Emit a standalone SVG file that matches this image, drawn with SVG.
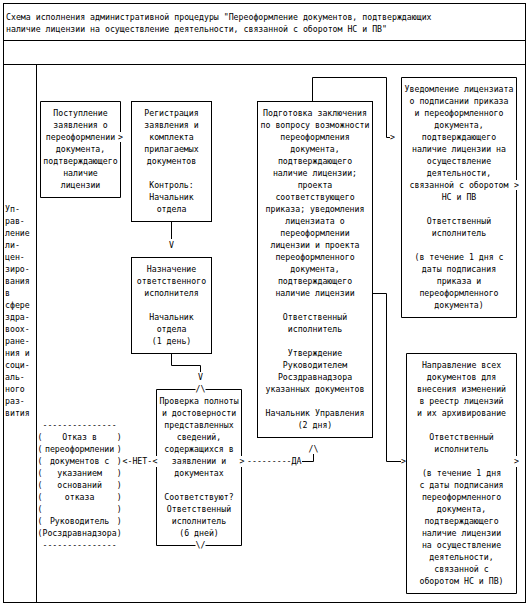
<svg xmlns="http://www.w3.org/2000/svg" width="532" height="611" viewBox="0 0 532 611">
<style>
text{font-family:"DejaVu Sans Mono","Liberation Mono",monospace;font-size:9.14px;fill:#000}
.c{text-anchor:middle}
.b{fill:none;stroke:#000;stroke-width:1}
</style>
<rect width="532" height="611" fill="#fff"/>
<g id="frame">
<rect class="b" x="3.5" y="3.5" width="522" height="599"/>
<path class="b" d="M3.5 40.5H525.5M3.5 64.5H525.5M36.5 64.5V602.5"/>
<g transform="scale(0.9 1)">
<text x="6.67" y="20.5">Схема исполнения административной процедуры "Переоформление документов, подтверждающих</text>
<text x="6.67" y="32.5">наличие лицензии на осуществление деятельности, связанной с оборотом НС и ПВ"</text>
</g>
</g>
<g id="lane">
<g transform="scale(0.9 1)">
<text x="5.56" y="212.5">Уп-</text>
<text x="5.56" y="224.5">рав-</text>
<text x="5.56" y="236.5">ление</text>
<text x="5.56" y="248.5">ли-</text>
<text x="5.56" y="260.5">цен-</text>
<text x="5.56" y="272.5">зиро-</text>
<text x="5.56" y="284.5">вания</text>
<text x="5.56" y="296.5">в</text>
<text x="5.56" y="308.5">сфере</text>
<text x="5.56" y="320.5">здра-</text>
<text x="5.56" y="332.5">воох-</text>
<text x="5.56" y="344.5">ране-</text>
<text x="5.56" y="356.5">ния и</text>
<text x="5.56" y="368.5">соци-</text>
<text x="5.56" y="380.5">аль-</text>
<text x="5.56" y="392.5">ного</text>
<text x="5.56" y="404.5">раз-</text>
<text x="5.56" y="416.5">вития</text>
</g>
</g>
<g id="nodeA">
<path class="b" d="M120.5 132V101.5H40.5V197.5H120.5V142"/>
<g transform="scale(0.9 1)">
<text class="c" x="89.44" y="116.5">Поступление</text>
<text class="c" x="89.44" y="128.5">заявления о</text>
<text class="c" x="89.44" y="140.5">переоформлении</text>
<text class="c" x="89.44" y="152.5">документа,</text>
<text class="c" x="89.44" y="164.5">подтверждающего</text>
<text class="c" x="89.44" y="176.5">наличие</text>
<text class="c" x="89.44" y="188.5">лицензии</text>
</g>
</g>
<g id="nodeB">
<rect class="b" x="131.5" y="101.5" width="80" height="120"/>
<g transform="scale(0.9 1)">
<text class="c" x="190.56" y="116.5">Регистрация</text>
<text class="c" x="190.56" y="128.5">заявления и</text>
<text class="c" x="190.56" y="140.5">комплекта</text>
<text class="c" x="190.56" y="152.5">прилагаемых</text>
<text class="c" x="190.56" y="164.5">документов</text>
<text class="c" x="190.56" y="188.5">Контроль:</text>
<text class="c" x="190.56" y="200.5">Начальник</text>
<text class="c" x="190.56" y="212.5">отдела</text>
</g>
</g>
<g id="nodeC">
<rect class="b" x="131.5" y="257.5" width="80" height="96"/>
<g transform="scale(0.9 1)">
<text class="c" x="190.56" y="272.5">Назначение</text>
<text class="c" x="190.56" y="284.5">ответственного</text>
<text class="c" x="190.56" y="296.5">исполнителя</text>
<text class="c" x="190.56" y="320.5">Начальник</text>
<text class="c" x="190.56" y="332.5">отдела</text>
<text class="c" x="190.56" y="344.5">(1 день)</text>
</g>
</g>
<g id="nodeD">
<path class="b" d="M205.5 389.5H241.5V456M241.5 467V545.5H205.5M195.5 545.5H156.5V467M156.5 456V389.5H195.5"/>
<g transform="scale(0.9 1)">
<text class="c" x="221.11" y="404.5">Проверка полноты</text>
<text class="c" x="221.11" y="416.5">и достоверности</text>
<text class="c" x="221.11" y="428.5">представленных</text>
<text class="c" x="221.11" y="440.5">сведений,</text>
<text class="c" x="221.11" y="452.5">содержащихся в</text>
<text class="c" x="221.11" y="464.5">заявлении и</text>
<text class="c" x="221.11" y="476.5">документах</text>
<text class="c" x="221.11" y="500.5">Соответствуют?</text>
<text class="c" x="221.11" y="512.5">Ответственный</text>
<text class="c" x="221.11" y="524.5">исполнитель</text>
<text class="c" x="221.11" y="536.5">(6 дней)</text>
</g>
</g>
<g id="nodeRefusal">
<g transform="scale(0.9 1)">
<text x="47.17" y="428.5">---------------</text>
<text x="47.17" y="548.5">---------------</text>
<text x="41.67" y="440.5">(</text><text x="129.67" y="440.5">)</text>
<text x="41.67" y="452.5">(</text><text x="129.67" y="452.5">)</text>
<text x="41.67" y="464.5">(</text><text x="129.67" y="464.5">)</text>
<text x="41.67" y="476.5">(</text><text x="129.67" y="476.5">)</text>
<text x="41.67" y="488.5">(</text><text x="129.67" y="488.5">)</text>
<text x="41.67" y="500.5">(</text><text x="129.67" y="500.5">)</text>
<text x="41.67" y="512.5">(</text><text x="129.67" y="512.5">)</text>
<text x="41.67" y="524.5">(</text><text x="129.67" y="524.5">)</text>
<text x="41.67" y="536.5">(</text><text x="129.67" y="536.5">)</text>
<text class="c" x="88.44" y="440.5">Отказ в</text>
<text class="c" x="88.44" y="452.5">переоформлении</text>
<text class="c" x="88.44" y="464.5">документов с</text>
<text class="c" x="88.44" y="476.5">указанием</text>
<text class="c" x="88.44" y="488.5">оснований</text>
<text class="c" x="88.44" y="500.5">отказа</text>
<text class="c" x="88.44" y="524.5">Руководитель</text>
<text class="c" x="88.44" y="536.5">Росздравнадзора</text>
</g>
</g>
<g id="nodeE">
<rect class="b" x="257.5" y="101.5" width="115" height="336"/>
<g transform="scale(0.9 1)">
<text class="c" x="350" y="116.5">Подготовка заключения</text>
<text class="c" x="350" y="128.5">по вопросу возможности</text>
<text class="c" x="350" y="140.5">переоформления</text>
<text class="c" x="350" y="152.5">документа,</text>
<text class="c" x="350" y="164.5">подтверждающего</text>
<text class="c" x="350" y="176.5">наличие лицензии;</text>
<text class="c" x="350" y="188.5">проекта</text>
<text class="c" x="350" y="200.5">соответствующего</text>
<text class="c" x="350" y="212.5">приказа; уведомления</text>
<text class="c" x="350" y="224.5">лицензиата о</text>
<text class="c" x="350" y="236.5">переоформлении</text>
<text class="c" x="350" y="248.5">лицензии и проекта</text>
<text class="c" x="350" y="260.5">переоформленного</text>
<text class="c" x="350" y="272.5">документа,</text>
<text class="c" x="350" y="284.5">подтверждающего</text>
<text class="c" x="350" y="296.5">наличие лицензии</text>
<text class="c" x="350" y="320.5">Ответственный</text>
<text class="c" x="350" y="332.5">исполнитель</text>
<text class="c" x="350" y="356.5">Утверждение</text>
<text class="c" x="350" y="368.5">Руководителем</text>
<text class="c" x="350" y="380.5">Росздравнадзора</text>
<text class="c" x="350" y="392.5">указанных документов</text>
<text class="c" x="350" y="416.5">Начальник Управления</text>
<text class="c" x="350" y="428.5">(2 дня)</text>
</g>
</g>
<g id="nodeF">
<path class="b" d="M516.5 180V77.5H401.5V317.5H516.5V190"/>
<g transform="scale(0.9 1)">
<text class="c" x="510" y="92.5">Уведомление лицензиата</text>
<text class="c" x="510" y="104.5">о подписании приказа</text>
<text class="c" x="510" y="116.5">и переоформленного</text>
<text class="c" x="510" y="128.5">документа,</text>
<text class="c" x="510" y="140.5">подтверждающего</text>
<text class="c" x="510" y="152.5">наличие лицензии на</text>
<text class="c" x="510" y="164.5">осуществление</text>
<text class="c" x="510" y="176.5">деятельности,</text>
<text class="c" x="510" y="188.5">связанной с оборотом</text>
<text class="c" x="510" y="200.5">НС и ПВ</text>
<text class="c" x="510" y="224.5">Ответственный</text>
<text class="c" x="510" y="236.5">исполнитель</text>
<text class="c" x="510" y="260.5">(в течение 1 дня с</text>
<text class="c" x="510" y="272.5">даты подписания</text>
<text class="c" x="510" y="284.5">приказа и</text>
<text class="c" x="510" y="296.5">переоформленного</text>
<text class="c" x="510" y="308.5">документа)</text>
</g>
</g>
<g id="nodeG">
<path class="b" d="M516.5 456V353.5H406.5V593.5H516.5V467"/>
<g transform="scale(0.9 1)">
<text class="c" x="512.78" y="368.5">Направление всех</text>
<text class="c" x="512.78" y="380.5">документов для</text>
<text class="c" x="512.78" y="392.5">внесения изменений</text>
<text class="c" x="512.78" y="404.5">в реестр лицензий</text>
<text class="c" x="512.78" y="416.5">и их архивирование</text>
<text class="c" x="512.78" y="440.5">Ответственный</text>
<text class="c" x="512.78" y="452.5">исполнитель</text>
<text class="c" x="512.78" y="476.5">(в течение 1 дня</text>
<text class="c" x="512.78" y="488.5">с даты подписания</text>
<text class="c" x="512.78" y="500.5">переоформленного</text>
<text class="c" x="512.78" y="512.5">документа,</text>
<text class="c" x="512.78" y="524.5">подтверждающего</text>
<text class="c" x="512.78" y="536.5">наличие лицензии</text>
<text class="c" x="512.78" y="548.5">на осуществление</text>
<text class="c" x="512.78" y="560.5">деятельности,</text>
<text class="c" x="512.78" y="572.5">связанной с</text>
<text class="c" x="512.78" y="584.5">оборотом НС и ПВ)</text>
</g>
</g>
<g id="connectors">
<path class="b" d="M171.5 221.5V239M171.5 353.5V365.5H200.5V372M312.5 101.5V77.5H386.5V137.5H390M372.5 293.5H386.5V461.5H401M302 461.5H313.5V454"/>
<g transform="scale(0.9 1)">
<text x="131.11" y="140.5">&gt;</text>
<text class="c" x="190.56" y="248.5">V</text>
<text class="c" x="222.78" y="380.5">V</text>
<text class="c" x="222.78" y="392.5">/\</text>
<text class="c" x="222.78" y="548.5">\/</text>
<text x="136.11" y="464.5">&lt;-НЕТ-</text>
<text x="169.44" y="464.5">&lt;</text>
<text x="266.11" y="464.5">&gt;</text>
<text x="274.44" y="464.5">---------ДА</text>
<text class="c" x="348.33" y="452.5">/\</text>
<text x="433.33" y="140.5">&gt;</text>
<text x="445.56" y="464.5">&gt;</text>
<text x="571.11" y="188.5">&gt;</text>
<text x="571.11" y="464.5">&gt;</text>
</g>
</g>
</svg>
